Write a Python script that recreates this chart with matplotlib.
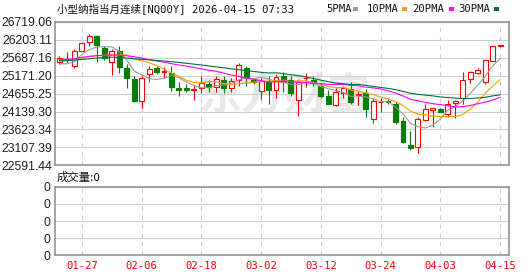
import matplotlib
matplotlib.use("Agg")
import matplotlib.pyplot as plt
from matplotlib.patches import Rectangle
import numpy as np
import pandas as pd

# ---------------- data ----------------
dates = ["01-22", "01-23", "01-26", "01-27", "01-28", "01-29", "01-30",
         "02-02", "02-03", "02-04", "02-05", "02-06", "02-09", "02-10", "02-11", "02-12", "02-13",
         "02-16", "02-17", "02-18", "02-19", "02-20", "02-23", "02-24", "02-25", "02-26", "02-27",
         "03-02", "03-03", "03-04", "03-05", "03-06", "03-09", "03-10", "03-11", "03-12", "03-13",
         "03-16", "03-17", "03-18", "03-19", "03-20", "03-23", "03-24", "03-25", "03-26", "03-27",
         "03-30", "03-31", "04-01", "04-02", "04-03", "04-06", "04-07", "04-08", "04-09", "04-10",
         "04-13", "04-14", "04-15"]

open_ = [25575, 25620, 25461, 25882, 26150, 26312, 25977, 25575, 25882, 25403,
         25087, 24456, 25231, 25384, 25269, 25250, 24829, 24829, 24772, 24810,
         24944, 24848, 25058, 24829, 25058, 25403, 25058, 24733, 24982, 24752,
         25173, 25039, 24485, 25097, 25039, 24886, 24580, 24331, 24676, 24791,
         24618, 24676, 23930, 24408, 24446, 24370, 23872, 23183, 23125, 23910,
         24197, 24216, 24082, 24389, 24542, 25078, 25250, 24982, 25595, 26030]
high = [25748, 25862, 25939, 26150, 26379, 26341, 26035, 25939, 26035, 25518,
        25154, 25154, 25441, 25441, 25422, 25441, 25001, 24925, 24906, 25154,
        25058, 25154, 25154, 25116, 25537, 25441, 25116, 25097, 25154, 25231,
        25269, 25154, 25078, 25250, 25173, 24944, 24771, 24810, 24886, 24982,
        24733, 24790, 24542, 24523, 24523, 24427, 23987, 23585, 23987, 24350,
        24254, 24254, 24465, 24484, 25269, 25307, 25403, 25633, 26035, 26044]
low = [25518, 25537, 25403, 25870, 26035, 25556, 25614, 25193, 25250, 24810,
       24408, 24236, 24992, 25212, 25116, 24733, 24599, 24714, 24465, 24676,
       24714, 24714, 24676, 24714, 24886, 24886, 24944, 24504, 24370, 24542,
       24695, 24599, 24006, 24848, 24867, 24542, 24350, 24293, 24523, 24370,
       24331, 23987, 23796, 24140, 24370, 23777, 23221, 23030, 22953, 23872,
       23681, 24121, 23987, 23968, 24369, 24963, 25231, 24944, 25595, 26006]
close = [25671, 25640, 25882, 26121, 26303, 26054, 25671, 25882, 25422, 25116,
         24446, 25116, 25365, 25269, 25307, 24848, 24772, 24752, 24791, 24963,
         24848, 25078, 24829, 25020, 25480, 25116, 24982, 25020, 24772, 25135,
         25001, 24676, 24982, 25116, 24963, 24580, 24350, 24714, 24829, 24408,
         24637, 24216, 24446, 24427, 24408, 23834, 23260, 23087, 23929, 24216,
         24235, 24140, 24369, 24446, 25058, 25269, 25346, 25614, 26016, 26044]

# moving-average values before enough closes are in view
ma5_head = [25510, 25515, 25570, 25790]
ma10_head = [25620, 25625, 25640, 25680, 25720, 25750, 25760, 25770, 25770]
ma20_head = [25633, 25645, 25660, 25700, 25730, 25750, 25760, 25767, 25767, 25745,
             25720, 25680, 25633, 25600, 25560, 25518, 25480, 25450, 25410]
ma30_head = [25600, 25610, 25620, 25640, 25660, 25680, 25700, 25705, 25700, 25680,
             25660, 25645, 25630, 25610, 25595, 25575, 25555, 25530, 25505, 25480,
             25455, 25425, 25400, 25370, 25346, 25320, 25295, 25270, 25250]

y_ticks = [22591.44, 23107.39, 23623.34, 24139.30, 24655.25, 25171.20, 25687.16, 26203.11, 26719.06]
x_tick_labels = ["01-27", "02-06", "02-18", "03-02", "03-12", "03-24", "04-03", "04-15"]
ma_labels = ["5PMA", "10PMA", "20PMA", "30PMA"]
ma_periods = [5, 10, 20, 30]
volume_label = "成交量:0"
title = "小型纳指当月连续[NQ00Y] 2026-04-15 07:33"

# ---------------- styles ----------------
RED = "#ff0000"
GREEN = "#008000"
ma_colors = ["#9a9a9a", "#f5a000", "#ff00ff", "#00703c"]
GRID = "#d0d0d0"
SPINE = "#8c8c8c"
mono_cjk = ["DejaVu Sans Mono", "Noto Sans CJK SC"]
LW = 0.8

W, H = 530, 276
fig = plt.figure(figsize=(W / 100, H / 100), dpi=100)
fig.patch.set_facecolor("white")

L, R = 55, 509
ax = fig.add_axes([L / W, 1 - 165.3 / H, (R - L) / W, (165.3 - 22) / H])
axv = fig.add_axes([L / W, 1 - 255.3 / H, (R - L) / W, (255.3 - 186.7) / H])

n = len(close)
x = np.arange(n)
xlim = (-0.6, n + 0.2)

# watermark
ax.text(0.505, 0.48, "东方财富", transform=ax.transAxes, ha="center", va="center",
        fontsize=31, color="#e8e8e8", fontweight="bold", family=["Noto Sans CJK SC"], zorder=0.5)

# candles
o = np.array(open_, float); c = np.array(close, float)
h = np.array(high, float); l = np.array(low, float)
up = c >= o
bw = 0.66
for i in range(n):
    col = RED if up[i] else GREEN
    ax.vlines(x[i], l[i], h[i], color=col, lw=LW, zorder=3)
    bottom = min(o[i], c[i])
    height = abs(c[i] - o[i])
    face = "white" if up[i] else GREEN
    ax.add_patch(Rectangle((x[i] - bw / 2, bottom), bw, height, facecolor=face,
                           edgecolor=col, lw=LW, zorder=4))

# moving averages
s = pd.Series(c)
heads = [ma5_head, ma10_head, ma20_head, ma30_head]
for p, head, col in zip(ma_periods, heads, ma_colors):
    ma = s.rolling(p).mean().to_numpy()
    ma[:len(head)] = head
    ax.plot(x, ma, color=col, lw=LW, zorder=5)

ax.set_xlim(*xlim)
ax.set_ylim(y_ticks[0], y_ticks[-1])
ax.set_yticks(y_ticks)
ax.set_yticklabels([f"{v:.2f}" for v in y_ticks])
tick_idx = [dates.index(t) for t in x_tick_labels]
ax.set_xticks(tick_idx)
ax.set_xticklabels([])
ax.tick_params(axis="both", length=0)
ax.tick_params(axis="y", pad=2, labelsize=8.8, labelcolor="#1e1e1e")
for lab in ax.get_yticklabels():
    lab.set_family("Liberation Sans")
ax.grid(axis="y", color=GRID, lw=LW, zorder=1)
ax.grid(axis="x", color=GRID, lw=LW, linestyle=(0, (4, 4)), zorder=1)
ax.set_axisbelow(True)
for sp in ax.spines.values():
    sp.set_color(SPINE)
    sp.set_linewidth(1.1)

# volume panel
vol_ticks = [0, 1, 2, 3, 4]
axv.set_xlim(*xlim)
axv.set_ylim(0, 4)
axv.set_yticks(vol_ticks)
axv.set_yticklabels(["0"] * len(vol_ticks))
axv.set_xticks(tick_idx)
axv.set_xticklabels(x_tick_labels, color=RED, family="DejaVu Sans Mono", fontsize=7.6)
axv.tick_params(axis="both", length=0)
axv.tick_params(axis="x", pad=4)
axv.tick_params(axis="y", pad=3, labelsize=8.8, labelcolor="#1e1e1e")
for lab in axv.get_yticklabels():
    lab.set_family("Liberation Sans")
axv.grid(axis="y", color=GRID, lw=LW)
axv.grid(axis="x", color=GRID, lw=LW, linestyle=(0, (4, 4)))
axv.set_axisbelow(True)
for sp in axv.spines.values():
    sp.set_color(SPINE)
    sp.set_linewidth(1.1)

# title & legend
fig.text(57 / W, 1 - 8.5 / H, title, ha="left", va="center", fontsize=7.6,
         family=mono_cjk, color="#111111")
leg_x = [326, 367, 412, 458]
dash_x = [353, 402, 449, 494]
for lab, lx, dx, col in zip(ma_labels, leg_x, dash_x, ma_colors):
    fig.text(lx / W, 1 - 8.5 / H, lab, ha="left", va="center", fontsize=7.6,
             family="DejaVu Sans Mono", color="#111111")
    fig.patches.append(Rectangle((dx / W, 1 - 10.5 / H), 5 / W, 3 / H,
                                 transform=fig.transFigure, facecolor=col,
                                 edgecolor="none", figure=fig))

fig.text(57 / W, 1 - 177 / H, volume_label, ha="left", va="center", fontsize=8.2,
         family=["Noto Sans CJK SC", "DejaVu Sans"], color="#111111")

fig.savefig("out.png", dpi=100)
